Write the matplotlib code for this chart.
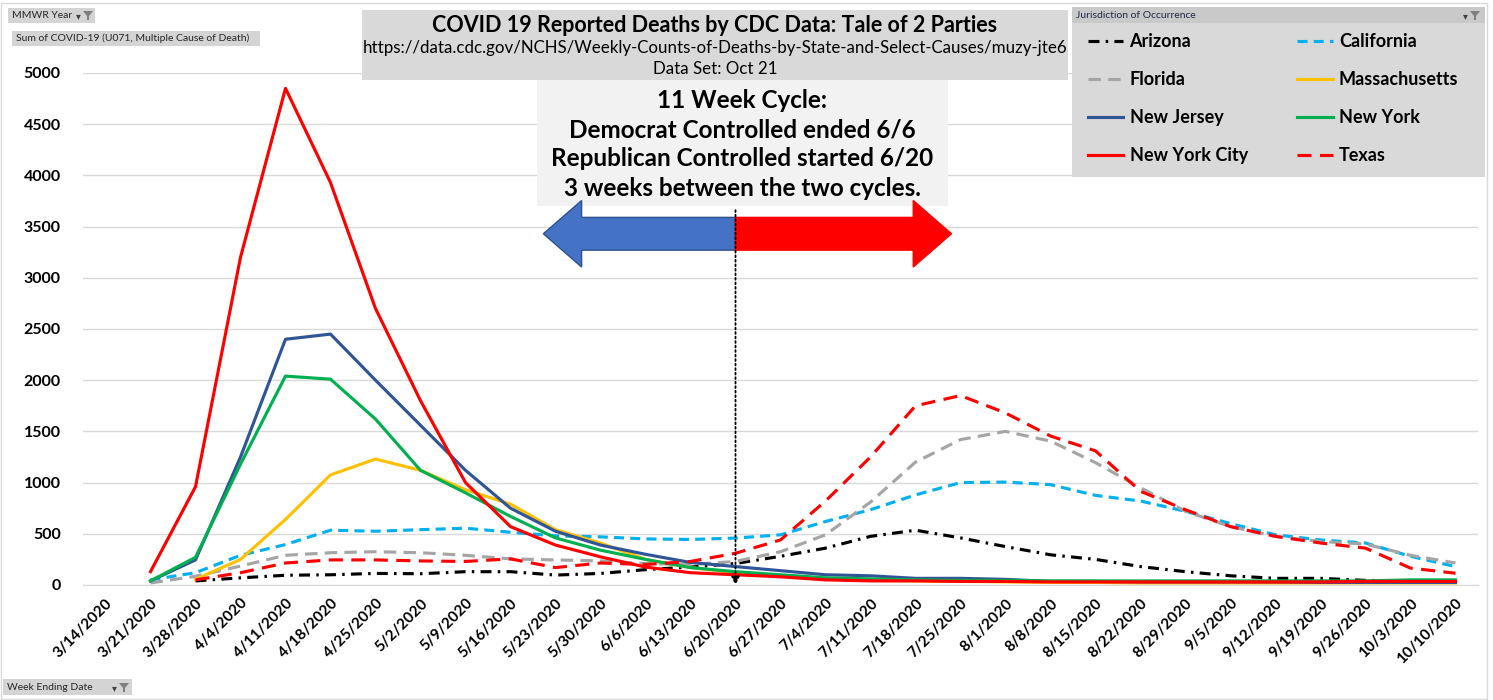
import numpy as np
import matplotlib
matplotlib.use("Agg")
import matplotlib.pyplot as plt
from matplotlib.patches import Rectangle, Polygon, FancyArrow

plt.rcParams['font.family'] = ['Lato', 'DejaVu Sans']

nan = np.nan
dates = ['3/14/2020', '3/21/2020', '3/28/2020', '4/4/2020', '4/11/2020', '4/18/2020',
         '4/25/2020', '5/2/2020', '5/9/2020', '5/16/2020', '5/23/2020', '5/30/2020',
         '6/6/2020', '6/13/2020', '6/20/2020', '6/27/2020', '7/4/2020', '7/11/2020',
         '7/18/2020', '7/25/2020', '8/1/2020', '8/8/2020', '8/15/2020', '8/22/2020',
         '8/29/2020', '9/5/2020', '9/12/2020', '9/19/2020', '9/26/2020', '10/3/2020',
         '10/10/2020']

arizona = [nan, nan, 40, 70, 95, 100, 113, 110, 130, 130, 97, 113, 150, 175, 210, 280,
           360, 475, 535, 460, 375, 295, 250, 180, 130, 90, 65, 65, 45, 40, 35]
california = [nan, 50, 120, 290, 395, 535, 525, 540, 555, 515, 480, 470, 450, 445, 458, 490,
              620, 735, 880, 1000, 1005, 980, 875, 820, 720, 600, 490, 440, 410, 280, 180]
florida = [nan, 20, 85, 185, 290, 315, 325, 315, 290, 255, 245, 235, 210, 200, 230, 325,
           490, 810, 1200, 1420, 1500, 1405, 1195, 950, 720, 570, 475, 425, 400, 290, 215]
massachusetts = [nan, nan, 55, 250, 640, 1075, 1230, 1120, 930, 790, 540, 410, 250, 170, 120, 90,
                 60, 45, 40, 35, 30, 25, 25, 20, 20, 20, 20, 20, 20, 20, 20]
new_jersey = [nan, 40, 245, 1250, 2400, 2450, 2000, 1560, 1120, 750, 525, 390, 300, 220, 180, 140,
              100, 90, 65, 65, 55, 35, 35, 30, 30, 30, 30, 25, 25, 25, 25]
new_york = [nan, 40, 270, 1180, 2040, 2010, 1620, 1120, 900, 670, 460, 340, 250, 170, 130, 100,
            70, 60, 50, 45, 45, 40, 40, 40, 40, 40, 40, 40, 40, 50, 50]
nyc = [nan, 130, 960, 3200, 4850, 3930, 2700, 1800, 1000, 570, 390, 275, 175, 120, 100, 80,
       50, 40, 40, 35, 35, 30, 30, 30, 30, 30, 30, 30, 35, 35, 35]
texas = [nan, nan, 50, 120, 215, 245, 245, 235, 230, 255, 170, 215, 200, 230, 310, 440,
         820, 1250, 1750, 1850, 1680, 1455, 1310, 915, 735, 570, 475, 410, 360, 165, 115]

series = [
    ('Arizona', arizona, 'black', (0, (3.5, 2, 0.8, 2))),
    ('California', california, '#00b0f0', (0, (3.2, 2))),
    ('Florida', florida, '#a5a5a5', (0, (4, 2.3))),
    ('Massachusetts', massachusetts, '#ffc000', '-'),
    ('New Jersey', new_jersey, '#2f5597', '-'),
    ('New York', new_york, '#00b050', '-'),
    ('New York City', nyc, '#ff0000', '-'),
    ('Texas', texas, '#ff0000', (0, (4.5, 2.7))),
]

W, H = 1493, 700


def fx(px):
    return px / W


def fy(py):
    return 1 - py / H


fig = plt.figure(figsize=(W / 100, H / 100), dpi=100)
ax = fig.add_axes([fx(83), fy(585), (1478 - 83) / W, (585 - 73) / H])

x = np.arange(len(dates))
lines = {}
for name, vals, color, ls in series:
    ln, = ax.plot(x, vals, color=color, linestyle=ls, lw=2.25, label=name,
                  solid_joinstyle='round', zorder=2)
    lines[name] = ln

ax.set_xlim(-0.5, len(dates) - 0.5)
ax.set_ylim(0, 5000)
ax.set_yticks(np.arange(0, 5001, 500))
ax.set_xticks(x)
ax.set_xticklabels(dates, rotation=45, ha='right', rotation_mode='anchor',
                   fontsize=11, fontweight='bold')
for t in ax.get_yticklabels():
    t.set_fontsize(11.5)
    t.set_fontweight('bold')
ax.tick_params(axis='both', length=0)
ax.tick_params(axis='y', pad=16)
ax.tick_params(axis='x', pad=8)
ax.grid(axis='y', color='#d9d9d9', lw=1)
ax.set_axisbelow(True)
for s in ['top', 'right', 'left']:
    ax.spines[s].set_visible(False)
ax.spines['bottom'].set_color('#d9d9d9')


def box(x0, y0, x1, y1, color, z=1.5):
    r = Rectangle((fx(x0), fy(y1)), fx(x1) - fx(x0), fy(y0) - fy(y1),
                  transform=fig.transFigure, facecolor=color, edgecolor='none',
                  zorder=z, clip_on=False)
    ax.add_artist(r)


def funnel(xc, yc, z=6):
    pts = [(xc - 5, yc - 4), (xc + 5, yc - 4), (xc + 1, yc + 1), (xc + 1, yc + 5),
           (xc - 1, yc + 5), (xc - 1, yc + 1)]
    p = Polygon([(fx(a), fy(b)) for a, b in pts], closed=True,
                transform=fig.transFigure, facecolor='#7f7f7f', edgecolor='none',
                zorder=z, clip_on=False)
    ax.add_artist(p)


# chart border
border = Rectangle((fx(1), fy(699)), fx(1487) - fx(1), fy(3) - fy(699),
                   transform=fig.transFigure, facecolor='none', edgecolor='#d9d9d9',
                   lw=1, zorder=0)
fig.add_artist(border)

# title box
box(362, 10, 1068, 80, '#d9d9d9')
ax.text(fx(715), fy(25), 'COVID 19 Reported Deaths by CDC Data: Tale of 2 Parties',
        transform=fig.transFigure, ha='center', va='center', fontsize=15.5,
        fontweight='bold', zorder=4)
ax.text(fx(715), fy(48), 'https://data.cdc.gov/NCHS/Weekly-Counts-of-Deaths-by-State-and-Select-Causes/muzy-jte6',
        transform=fig.transFigure, ha='center', va='center', fontsize=12.2, zorder=4)
ax.text(fx(715), fy(69), 'Data Set: Oct 21', transform=fig.transFigure,
        ha='center', va='center', fontsize=12.2, zorder=4)

# cycle note box
box(537, 80, 948, 206, '#f2f2f2')
note = ['11 Week Cycle:', 'Democrat Controlled ended 6/6',
        'Republican Controlled started 6/20', '3 weeks between the two cycles.']
for i, t in enumerate(note):
    ax.text(fx(742), fy(101 + 29 * i), t, transform=fig.transFigure, ha='center',
            va='center', fontsize=17.5, fontweight='bold', zorder=4)

# arrows
y_mid = 3430
ax.add_patch(FancyArrow(14, y_mid, 9.73 - 14, 0, width=320, head_width=650,
                        head_length=0.85, length_includes_head=True,
                        facecolor='#4472c4', edgecolor='#2f528f', lw=1, zorder=3))
ax.add_patch(FancyArrow(14, y_mid, 18.8 - 14, 0, width=320, head_width=650,
                        head_length=0.85, length_includes_head=True,
                        facecolor='#ff0000', edgecolor='#ff0000', lw=1, zorder=3))
ax.annotate('', xy=(14, 0), xytext=(14, 3660),
            arrowprops=dict(arrowstyle='-|>', linestyle=(0, (1, 1.5)), lw=1.3,
                            color='black', mutation_scale=12, shrinkA=0, shrinkB=0),
            zorder=4)

# pivot field buttons
box(8, 8, 95, 23, '#d4d4d4', z=5)
ax.text(fx(12), fy(15.5), 'MMWR Year', transform=fig.transFigure, ha='left',
        va='center', fontsize=7.5, color='#262626', zorder=6)
ax.text(fx(78), fy(17), '▾', transform=fig.transFigure, ha='center', va='center',
        fontsize=7, color='#404040', zorder=6)
funnel(88, 15)

box(12, 31, 260, 46, '#d4d4d4', z=5)
ax.text(fx(16), fy(38.5), 'Sum of COVID-19 (U071, Multiple Cause of Death)',
        transform=fig.transFigure, ha='left', va='center', fontsize=7.5,
        color='#262626', zorder=6)

box(3, 679, 132, 695, '#d4d4d4', z=5)
ax.text(fx(7), fy(687), 'Week Ending Date', transform=fig.transFigure, ha='left',
        va='center', fontsize=7.5, color='#262626', zorder=6)
ax.text(fx(114), fy(689), '▾', transform=fig.transFigure, ha='center', va='center',
        fontsize=7, color='#404040', zorder=6)
funnel(124, 687)

# legend box
box(1072, 7, 1485, 177, '#d9d9d9', z=1.5)
box(1072, 7, 1485, 23, '#c9c9c9', z=1.6)
ax.text(fx(1076), fy(15.5), 'Jurisdiction of Occurrence', transform=fig.transFigure,
        ha='left', va='center', fontsize=7.5, color='#1f2a44', zorder=6)
ax.text(fx(1465), fy(17), '▾', transform=fig.transFigure, ha='center', va='center',
        fontsize=7, color='#404040', zorder=6)
funnel(1475, 15)

order = ['Arizona', 'Florida', 'New Jersey', 'New York City',
         'California', 'Massachusetts', 'New York', 'Texas']
leg = fig.legend([lines[n] for n in order], order, ncol=2, loc='upper left',
                 bbox_to_anchor=(fx(1088), fy(33)), frameon=False,
                 prop={'size': 13, 'weight': 'bold'}, handlelength=1.95,
                 handletextpad=0.35, columnspacing=2.75, labelspacing=1.17,
                 borderpad=0, borderaxespad=0)

fig.savefig('out.png', dpi=100)
